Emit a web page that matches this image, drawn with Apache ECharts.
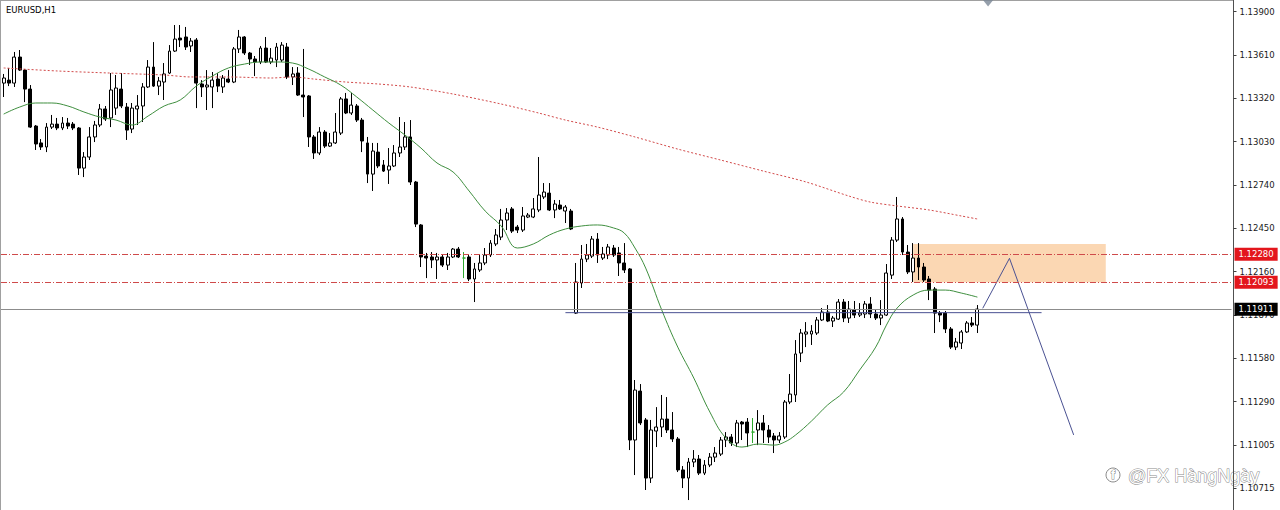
<!DOCTYPE html>
<html>
<head>
<meta charset="utf-8">
<title>EURUSD,H1</title>
<script src="https://cdn.jsdelivr.net/npm/echarts@6/dist/echarts.min.js"></script>
<style>
  html, body { margin: 0; padding: 0; background: #ffffff; }
  #chart { width: 1280px; height: 510px; }
</style>
</head>
<body>
<div id="chart"></div>
<script>
// ---- data ---------------------------------------------------------------
const symbolName = 'EURUSD,H1';

// right-hand price scale, bottom to top
const priceTicks = ['1.10715', '1.11005', '1.11290', '1.11580', '1.11870', '1.12160',
                    '1.12450', '1.12740', '1.13030', '1.13320', '1.13610', '1.13900'];

// hourly bars: [open, close, low, high]
const candles = [
  [1.13423,1.13457,1.13330,1.13484],[1.13443,1.13423,1.13403,1.13524],[1.13423,1.13597,1.13397,1.13631],
  [1.13597,1.13510,1.13504,1.13644],[1.13510,1.13383,1.13296,1.13517],[1.13383,1.13129,1.13123,1.13410],
  [1.13136,1.13016,1.12976,1.13143],[1.13023,1.12996,1.12976,1.13049],[1.12996,1.13129,1.12962,1.13156],
  [1.13129,1.13149,1.13116,1.13210],[1.13149,1.13123,1.13109,1.13190],[1.13123,1.13156,1.13109,1.13196],
  [1.13156,1.13136,1.13116,1.13190],[1.13149,1.13123,1.13109,1.13163],[1.13123,1.12855,1.12809,1.13129],
  [1.12855,1.12929,1.12795,1.12962],[1.12929,1.13063,1.12909,1.13129],[1.13063,1.13143,1.13029,1.13170],
  [1.13143,1.13250,1.13129,1.13283],[1.13250,1.13183,1.13170,1.13270],[1.13190,1.13377,1.13129,1.13490],
  [1.13256,1.13390,1.13210,1.13477],[1.13383,1.13270,1.13256,1.13490],[1.13263,1.13109,1.13043,1.13290],
  [1.13116,1.13256,1.13089,1.13290],[1.13250,1.13270,1.13143,1.13343],[1.13270,1.13397,1.13163,1.13423],
  [1.13397,1.13530,1.13390,1.13577],[1.13530,1.13403,1.13397,1.13697],[1.13403,1.13437,1.13343,1.13464],
  [1.13430,1.13484,1.13310,1.13557],[1.13490,1.13637,1.13484,1.13677],[1.13637,1.13717,1.13631,1.13811],
  [1.13724,1.13711,1.13664,1.13811],[1.13731,1.13664,1.13644,1.13798],[1.13671,1.13704,1.13631,1.13724],
  [1.13711,1.13423,1.13256,1.13724],[1.13417,1.13397,1.13330,1.13443],[1.13397,1.13410,1.13243,1.13510],
  [1.13397,1.13443,1.13256,1.13497],[1.13450,1.13403,1.13363,1.13490],[1.13397,1.13457,1.13357,1.13477],
  [1.13450,1.13430,1.13423,1.13510],[1.13430,1.13651,1.13423,1.13664],[1.13651,1.13731,1.13624,1.13778],
  [1.13731,1.13624,1.13611,1.13737],[1.13624,1.13584,1.13544,1.13631],[1.13584,1.13564,1.13470,1.13604],
  [1.13564,1.13657,1.13550,1.13671],[1.13657,1.13564,1.13557,1.13731],[1.13564,1.13590,1.13550,1.13657],
  [1.13577,1.13664,1.13530,1.13691],[1.13577,1.13677,1.13564,1.13697],[1.13664,1.13464,1.13450,1.13691],
  [1.13464,1.13484,1.13410,1.13530],[1.13490,1.13343,1.13337,1.13530],[1.13343,1.13330,1.13196,1.13651],
  [1.13337,1.13063,1.12996,1.13343],[1.13063,1.12956,1.12916,1.13076],[1.12956,1.13096,1.12942,1.13129],
  [1.13096,1.13002,1.12989,1.13109],[1.13002,1.13023,1.12996,1.13089],[1.13023,1.13096,1.13016,1.13223],
  [1.13089,1.13317,1.13076,1.13330],[1.13317,1.13223,1.13216,1.13357],[1.13223,1.13276,1.13210,1.13357],
  [1.13270,1.13176,1.13163,1.13283],[1.13176,1.13036,1.12962,1.13190],[1.13023,1.12815,1.12755,1.13063],
  [1.12815,1.12969,1.12702,1.13023],[1.12962,1.12869,1.12855,1.13023],[1.12876,1.12835,1.12829,1.12909],
  [1.12842,1.12869,1.12749,1.12989],[1.12869,1.12956,1.12862,1.13009],[1.12956,1.12996,1.12929,1.13196],
  [1.12996,1.13063,1.12976,1.13163],[1.13063,1.12762,1.12742,1.13176],[1.12762,1.12481,1.12461,1.12769],
  [1.12475,1.12261,1.12194,1.12481],[1.12267,1.12254,1.12120,1.12288],[1.12261,1.12241,1.12187,1.12294],
  [1.12241,1.12261,1.12114,1.12288],[1.12261,1.12207,1.12194,1.12274],[1.12207,1.12261,1.12174,1.12288],
  [1.12261,1.12314,1.12254,1.12321],[1.12314,1.12261,1.12254,1.12328],[1.12254,1.12254,1.12120,1.12294],
  [1.12261,1.12114,1.12100,1.12274],[1.12114,1.12181,1.11960,1.12221],[1.12174,1.12221,1.12161,1.12274],
  [1.12221,1.12274,1.12207,1.12321],[1.12274,1.12354,1.12261,1.12374],[1.12348,1.12408,1.12334,1.12448],
  [1.12394,1.12508,1.12374,1.12582],[1.12508,1.12555,1.12441,1.12588],[1.12582,1.12434,1.12421,1.12595],
  [1.12461,1.12441,1.12421,1.12475],[1.12441,1.12535,1.12428,1.12595],[1.12528,1.12541,1.12521,1.12555],
  [1.12528,1.12582,1.12521,1.12655],[1.12575,1.12675,1.12561,1.12929],[1.12662,1.12695,1.12648,1.12755],
  [1.12688,1.12575,1.12568,1.12755],[1.12575,1.12615,1.12521,1.12642],[1.12608,1.12582,1.12575,1.12642],
  [1.12568,1.12595,1.12488,1.12608],[1.12568,1.12448,1.12441,1.12582],[1.11886,1.12094,1.11880,1.12221],
  [1.12087,1.12247,1.12054,1.12341],[1.12247,1.12274,1.12227,1.12348],[1.12267,1.12381,1.12254,1.12401],
  [1.12381,1.12274,1.12221,1.12421],[1.12254,1.12281,1.12241,1.12328],[1.12274,1.12328,1.12247,1.12348],
  [1.12321,1.12274,1.12261,1.12341],[1.12288,1.12221,1.12134,1.12328],[1.12221,1.12174,1.12154,1.12354],
  [1.12181,1.11038,1.10971,1.12187],[1.11038,1.11372,1.10804,1.11439],[1.11365,1.11152,1.11138,1.11412],
  [1.11172,1.10784,1.10704,1.11185],[1.10784,1.11105,1.10751,1.11172],[1.11098,1.11125,1.10991,1.11258],
  [1.11125,1.11178,1.11058,1.11339],[1.11178,1.11105,1.11085,1.11325],[1.11105,1.11045,1.11025,1.11225],
  [1.11045,1.10838,1.10824,1.11058],[1.10838,1.10784,1.10717,1.10864],[1.10784,1.10891,1.10637,1.10918],
  [1.10891,1.10911,1.10857,1.10971],[1.10911,1.10817,1.10804,1.10938],[1.10817,1.10871,1.10804,1.10904],
  [1.10871,1.10924,1.10857,1.10951],[1.10924,1.10951,1.10891,1.10991],[1.10944,1.11038,1.10931,1.11058],
  [1.11038,1.11058,1.10991,1.11091],[1.11058,1.11018,1.10998,1.11078],[1.11018,1.11152,1.10991,1.11172],
  [1.11158,1.11145,1.11038,1.11165],[1.11158,1.11085,1.10991,1.11185],[1.11091,1.11091,1.11018,1.11185],
  [1.11105,1.11152,1.11004,1.11238],[1.11152,1.11105,1.11018,1.11205],[1.11105,1.11058,1.11018,1.11138],
  [1.11065,1.11038,1.10951,1.11085],[1.11038,1.11065,1.11018,1.11091],[1.11058,1.11292,1.11045,1.11305],
  [1.11292,1.11345,1.11278,1.11479],[1.11339,1.11613,1.11292,1.11706],[1.11619,1.11753,1.11559,1.11780],
  [1.11746,1.11760,1.11659,1.11826],[1.11746,1.11766,1.11673,1.11806],[1.11753,1.11840,1.11740,1.11860],
  [1.11840,1.11893,1.11833,1.11920],[1.11893,1.11833,1.11826,1.11940],[1.11833,1.11853,1.11793,1.11867],
  [1.11846,1.11960,1.11840,1.11980],[1.11960,1.11853,1.11826,1.11980],[1.11853,1.11913,1.11820,1.11967],
  [1.11907,1.11873,1.11853,1.11967],[1.11873,1.11886,1.11860,1.11953],[1.11880,1.11947,1.11853,1.11967],
  [1.11947,1.11880,1.11853,1.11993],[1.11880,1.11853,1.11840,1.11907],[1.11853,1.11873,1.11806,1.11973],
  [1.11873,1.12154,1.11867,1.12214],[1.12140,1.12374,1.12114,1.12394],[1.12374,1.12515,1.12361,1.12662],
  [1.12515,1.12294,1.12274,1.12528],[1.12294,1.12161,1.12147,1.12341],[1.12161,1.12254,1.12094,1.12354],
  [1.12254,1.12194,1.12107,1.12354],[1.12194,1.12107,1.12094,1.12221],[1.12114,1.12040,1.11973,1.12134],
  [1.12047,1.11886,1.11753,1.12060],[1.11886,1.11873,1.11826,1.11900],[1.11886,1.11780,1.11753,1.11900],
  [1.11780,1.11659,1.11646,1.11793],[1.11659,1.11693,1.11639,1.11720],[1.11686,1.11760,1.11646,1.11773],
  [1.11760,1.11820,1.11753,1.11833],[1.11820,1.11806,1.11793,1.11860],[1.11806,1.11913,1.11753,1.11940]
];

// bars whose open equals close (drawn in the line colour)
const dojiBars = [86, 140];

// fast moving average, [bar, price]
const maFast = [
  [0,1.13216],[3,1.13263],[6,1.13290],[9,1.13290],[12,1.13270],[15,1.13230],[18,1.13196],[21,1.13176],
  [24,1.13143],[27,1.13203],[30,1.13270],[33,1.13310],[36,1.13403],[39,1.13470],[42,1.13524],[45,1.13550],
  [48,1.13564],[51,1.13564],[54,1.13557],[57,1.13517],[60,1.13464],[63,1.13410],[66,1.13330],[69,1.13243],
  [72,1.13156],[75,1.13076],[78,1.12989],[81,1.12889],[84,1.12829],[87,1.12702],[90,1.12568],[93,1.12468],
  [96,1.12321],[99,1.12348],[102,1.12408],[105,1.12448],[108,1.12468],[111,1.12475],[114,1.12455],
  [116,1.12421],[118,1.12321],[120,1.12187],[123,1.11907],[126,1.11659],[129,1.11452],[132,1.11225],
  [135,1.11051],[138,1.10991],[141,1.11011],[144,1.11004],[146,1.11025],[148,1.11071],[151,1.11165],
  [154,1.11272],[157,1.11359],[160,1.11506],[163,1.11659],[165,1.11806],[167,1.11920],[170,1.12007],
  [173,1.12040],[176,1.12040],[179,1.12020],[182,1.11993]
];

// slow moving average, [bar, price]
const maSlow = [
  [0,1.13524],[10,1.13504],[20,1.13490],[30,1.13477],[35,1.13464],[42,1.13464],[50,1.13457],[54,1.13464],
  [58,1.13450],[64,1.13430],[70,1.13417],[76,1.13397],[84,1.13350],[93,1.13283],[100,1.13223],[105,1.13176],
  [111,1.13129],[118,1.13063],[126,1.12982],[134,1.12909],[142,1.12835],[150,1.12762],[158,1.12668],
  [162,1.12628],[167,1.12602],[173,1.12575],[179,1.12535],[182,1.12515]
];

// horizontal levels
const levelUpper = 1.12280;
const levelLower = 1.12093;
const lastPrice  = 1.11911;

// drawing objects, [bar, price]
const supportLine = [[105, 1.11889], [194, 1.11889]];
const projection  = [[183, 1.11918], [188, 1.12252], [200, 1.11072]];
const supplyZone  = [[170, 1.12348], [206, 1.12093]];
const shiftMarker = [[184, 1.13958]];

const slotCount = 230;          // visible bar slots incl. right-hand shift
const priceMin = 1.105704;
const priceMax = 1.139782;

// ---- chart --------------------------------------------------------------
const FONT = 'DejaVu Sans';
const BAND = 5.35;
const DOJI = '#2fa82f';

const slots = Array.from({ length: slotCount }, (_, i) => String(i));
const candleData = candles.map((c, i) => dojiBars.includes(i)
  ? { value: c, itemStyle: { color: DOJI, color0: DOJI, borderColor: DOJI, borderColor0: DOJI } }
  : c);

const chart = echarts.init(document.getElementById('chart'), null, { renderer: 'svg' });

function levelLabel(bg) {
  return {
    show: true, position: 'end', distance: 3,
    formatter: p => Number(p.value).toFixed(5),
    color: '#ffffff', backgroundColor: bg,
    fontFamily: FONT, fontSize: 8.5, lineHeight: 10,
    padding: [2, 4, 1, 4]
  };
}

const dashDot = [6, 2, 1, 2];

chart.setOption({
  animation: false,
  backgroundColor: '#ffffff',
  title: {
    text: symbolName, left: 6, top: 5.5, padding: 0,
    textStyle: { fontFamily: FONT, fontSize: 8.5, fontWeight: 'normal', color: '#000000' }
  },
  grid: [
    { left: 1, top: 0, width: slotCount * BAND, height: 510 },
    { left: 1, top: 11.7, width: slotCount * BAND, height: 476.6 }
  ],
  xAxis: [
    { type: 'category', data: slots, gridIndex: 0, show: false },
    { type: 'value', gridIndex: 1, show: false, min: 0, max: 1 }
  ],
  yAxis: [
    {
      type: 'value', gridIndex: 0, position: 'right', offset: 2,
      min: priceMin, max: priceMax,
      axisLine: { show: true, onZero: false, lineStyle: { color: '#505050', width: 1 } },
      axisTick: { show: false }, axisLabel: { show: false }, splitLine: { show: false }
    },
    {
      type: 'value', gridIndex: 1, position: 'right', offset: 2,
      min: 0, max: priceTicks.length - 1, interval: 1,
      axisLine: { show: false, onZero: false },
      axisTick: { show: true, length: 3, lineStyle: { color: '#404040' } },
      axisLabel: {
        show: true, margin: 6, color: '#1a1a1a', fontFamily: FONT, fontSize: 8.5,
        formatter: v => priceTicks[Math.round(v)] || ''
      },
      splitLine: { show: false }
    }
  ],
  series: [
    {
      name: 'zone', type: 'line', data: [], z: 1, silent: true,
      markArea: {
        silent: true,
        itemStyle: { color: '#fbd7b3' },
        data: [[
          { xAxis: supplyZone[0][0], yAxis: supplyZone[0][1] },
          { xAxis: supplyZone[1][0], yAxis: supplyZone[1][1] }
        ]]
      }
    },
    {
      name: symbolName, type: 'candlestick', data: candleData, z: 2,
      barWidth: 3.4,
      itemStyle: {
        color: '#ffffff', color0: '#000000',
        borderColor: '#000000', borderColor0: '#000000', borderWidth: 1
      },
      markLine: {
        silent: true, symbol: 'none', animation: false, precision: 5,
        data: [
          { yAxis: levelUpper, lineStyle: { color: '#cf4a4a', width: 1, type: dashDot }, label: levelLabel('#e3161c') },
          { yAxis: levelLower, lineStyle: { color: '#cf4a4a', width: 1, type: dashDot }, label: levelLabel('#e3161c') },
          { yAxis: lastPrice,  lineStyle: { color: '#8c8c8c', width: 1, type: 'solid' }, label: levelLabel('#000000') }
        ]
      }
    },
    {
      name: 'MA slow', type: 'line', data: maSlow, z: 3, symbol: 'none',
      smooth: 0.3, lineStyle: { color: '#d24a4a', width: 1, type: [2, 2] }
    },
    {
      name: 'MA fast', type: 'line', data: maFast, z: 3, symbol: 'none',
      smooth: 0.4, lineStyle: { color: '#3f8f3f', width: 1 }
    },
    {
      name: 'support', type: 'line', data: supportLine, z: 4, symbol: 'none',
      lineStyle: { color: '#4a5192', width: 1 }
    },
    {
      name: 'projection', type: 'line', data: projection, z: 4, symbol: 'none',
      lineStyle: { color: '#4a5192', width: 1 }
    },
    {
      name: 'shift', type: 'scatter', data: shiftMarker, z: 6, silent: true,
      symbol: 'triangle', symbolRotate: 180, symbolSize: [11, 7],
      itemStyle: { color: '#7b8796' }
    }
  ],
  graphic: [
    { type: 'line', silent: true, shape: { x1: 0.5, y1: 0, x2: 0.5, y2: 510 }, style: { stroke: '#a0a0a0', lineWidth: 1 } },
    { type: 'line', silent: true, shape: { x1: 0, y1: 0.5, x2: 1234, y2: 0.5 }, style: { stroke: '#a0a0a0', lineWidth: 1 } },
    { type: 'circle', silent: true, shape: { cx: 1113, cy: 475, r: 7 }, style: { fill: '#ffffff', stroke: '#8a8a8a', lineWidth: 1 } },
    { type: 'text', silent: true, style: { x: 1113, y: 475, text: 'f', align: 'center', verticalAlign: 'middle',
      font: 'bold 12px "Liberation Sans"', fill: '#ffffff', stroke: '#8a8a8a', lineWidth: 1 } },
    { type: 'text', silent: true, style: { x: 1128, y: 476, text: '@FX HàngNgày', verticalAlign: 'middle',
      font: '18px "Liberation Sans"', fill: '#ffffff', stroke: '#8a8a8a', lineWidth: 1 } }
  ]
});
</script>
</body>
</html>
